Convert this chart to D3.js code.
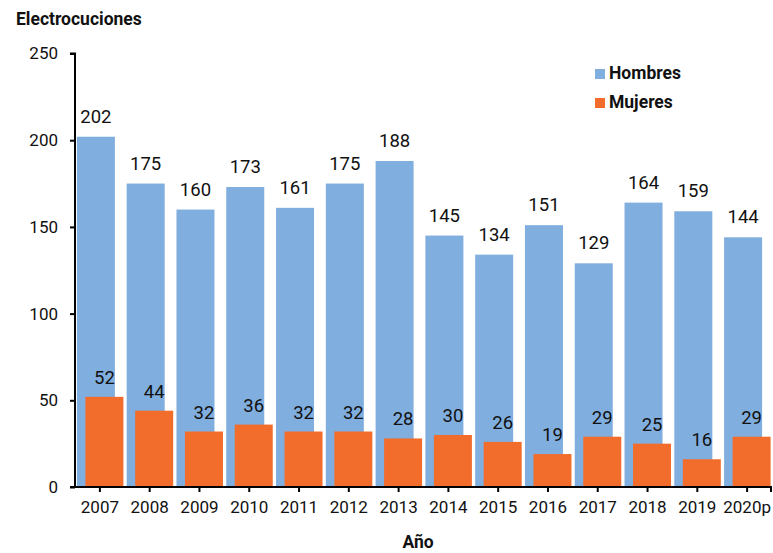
<!DOCTYPE html>
<html>
<head>
<meta charset="utf-8">
<script src="https://cdn.jsdelivr.net/npm/d3@7"></script>
<style>
  body { margin: 0; background: #fff; }
  text { font-family: Roboto, "Liberation Sans", sans-serif; fill: #111; }
</style>
</head>
<body>
<script>
var years = ["2007","2008","2009","2010","2011","2012","2013","2014","2015","2016","2017","2018","2019","2020p"];
var hombres = [202, 175, 160, 173, 161, 175, 188, 145, 134, 151, 129, 164, 159, 144];
var mujeres = [52, 44, 32, 36, 32, 32, 28, 30, 26, 19, 29, 25, 16, 29];
var yTicks = [0, 50, 100, 150, 200, 250];

var w = 773, h = 553;
var padL = 75, padR = 772, padT = 53.5, padB = 487;
var barW = 38;

var svg = d3.select("body").append("svg")
    .attr("width", w)
    .attr("height", h);

var x = d3.scaleBand()
    .domain(years)
    .range([padL, padR]);

var y = d3.scaleLinear()
    .domain([0, 250])
    .range([padB, padT]);

function cx(d) { return x(d) + x.bandwidth() / 2; }

// Hombres bars (behind)
svg.selectAll("rect.h")
    .data(years)
    .enter().append("rect")
    .attr("class", "h")
    .attr("x", function(d){ return cx(d) - 23; })
    .attr("y", function(d, i){ return y(hombres[i]); })
    .attr("width", barW)
    .attr("height", function(d, i){ return padB - y(hombres[i]); })
    .attr("fill", "#80aede");

svg.selectAll("text.hl")
    .data(years)
    .enter().append("text")
    .attr("class", "hl")
    .attr("x", function(d){ return cx(d) - 23 + barW / 2; })
    .attr("y", function(d, i){ return y(hombres[i]) - 14; })
    .attr("text-anchor", "middle")
    .attr("font-size", 18.5)
    .text(function(d, i){ return hombres[i]; });

// Mujeres bars (front)
svg.selectAll("rect.m")
    .data(years)
    .enter().append("rect")
    .attr("class", "m")
    .attr("x", function(d){ return cx(d) - 14.5; })
    .attr("y", function(d, i){ return y(mujeres[i]); })
    .attr("width", barW)
    .attr("height", function(d, i){ return padB - y(mujeres[i]); })
    .attr("fill", "#f26d2b");

svg.selectAll("text.ml")
    .data(years)
    .enter().append("text")
    .attr("class", "ml")
    .attr("x", function(d){ return cx(d) - 14.5 + barW / 2; })
    .attr("y", function(d, i){ return y(mujeres[i]) - 13; })
    .attr("text-anchor", "middle")
    .attr("font-size", 18.5)
    .text(function(d, i){ return mujeres[i]; });

// axes
var yAxis = d3.axisLeft(y).tickValues(yTicks).tickSize(5).tickPadding(12);
var gy = svg.append("g")
    .attr("transform", "translate(" + padL + ",0)")
    .call(yAxis);
gy.select(".domain").attr("stroke", "#000").attr("stroke-width", 2).attr("d", "M-5," + padT + "H0V" + padB);
gy.selectAll(".tick line").attr("stroke", "#000").attr("stroke-width", 2);
gy.selectAll(".tick text").attr("font-size", 17).attr("fill", "#111")
    .attr("font-family", "Roboto, sans-serif");

var xAxis = d3.axisBottom(x).tickSize(5).tickPadding(9).tickSizeOuter(0);
var gx = svg.append("g")
    .attr("transform", "translate(0," + padB + ")")
    .call(xAxis);
gx.select(".domain").attr("stroke", "#000").attr("stroke-width", 2).attr("d", "M" + (padL - 5) + ",0H" + (padR - 1) + "V5");
gx.selectAll(".tick line").attr("stroke", "#000").attr("stroke-width", 2);
gx.selectAll(".tick text").attr("font-size", 17).attr("fill", "#111")
    .attr("font-family", "Roboto, sans-serif");

// titles
svg.append("text")
    .attr("x", 16).attr("y", 25)
    .attr("font-size", 17.5).attr("font-weight", "bold")
    .text("Electrocuciones");

svg.append("text")
    .attr("x", 418).attr("y", 548)
    .attr("text-anchor", "middle")
    .attr("font-size", 17.5).attr("font-weight", "bold")
    .text("Año");

// legend
var legend = [["Hombres", "#80aede"], ["Mujeres", "#f26d2b"]];
var lg = svg.selectAll("g.leg")
    .data(legend)
    .enter().append("g")
    .attr("class", "leg")
    .attr("transform", function(d, i){ return "translate(595," + (69 + i * 29) + ")"; });
lg.append("rect")
    .attr("width", 10).attr("height", 10)
    .attr("fill", function(d){ return d[1]; });
lg.append("text")
    .attr("x", 14).attr("y", 10)
    .attr("font-size", 17.5).attr("font-weight", "bold")
    .text(function(d){ return d[0]; });
</script>
</body>
</html>
